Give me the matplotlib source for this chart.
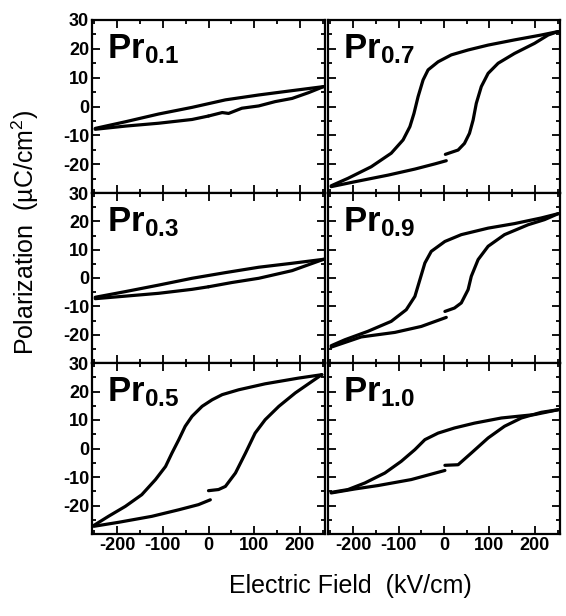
import matplotlib
matplotlib.use("Agg")
import matplotlib.pyplot as plt
from matplotlib.ticker import MultipleLocator

plt.rcParams['font.family'] = ['Liberation Sans', 'DejaVu Sans']
plt.rcParams['mathtext.default'] = 'regular'

# hysteresis loops: upper branch (descending field), lower branch in two
# pieces split at E = 0 where the measurement starts
PR01_UP_E = [252, 183, 110, 37, -36, -109, -182, -248]
PR01_UP_P = [6.9, 5.5, 4.0, 2.3, -0.3, -2.6, -5.3, -7.6]
PR01_LO1_E = [-248, -182, -109, -36, 0]
PR01_LO1_P = [-7.9, -6.8, -5.8, -4.5, -3.3]
PR01_LO2_E = [0, 30, 44, 73, 110, 146, 183, 219, 252]
PR01_LO2_P = [-3.3, -2.1, -2.4, -0.6, 0.2, 1.7, 2.8, 4.8, 6.9]

PR03_UP_E = [252, 183, 110, 37, -36, -109, -182, -248]
PR03_UP_P = [6.6, 5.2, 3.8, 1.9, -0.1, -2.5, -4.8, -6.8]
PR03_LO1_E = [-248, -182, -109, -36, 0]
PR03_LO1_P = [-7.3, -6.4, -5.4, -4.0, -3.1]
PR03_LO2_E = [0, 51, 110, 183, 252]
PR03_LO2_P = [-3.1, -1.6, -0.1, 2.6, 6.6]

PR05_UP_E = [248, 197, 124, 66, 30, 8, -14, -36, -51, -65, -80, -94, -116, -146, -182, -219, -251]
PR05_UP_P = [25.9, 24.7, 22.7, 20.6, 18.9, 17.1, 14.8, 11.3, 7.8, 3.1, -1.6, -6.3, -10.9, -16.2, -20.3, -23.8, -27.0]
PR05_LO1_E = [-251, -197, -124, -65, -22, 4]
PR05_LO1_P = [-27.3, -25.9, -23.8, -21.5, -19.7, -18.0]
PR05_LO2_E = [0, 22, 37, 59, 81, 102, 124, 154, 190, 227, 248]
PR05_LO2_P = [-14.8, -14.4, -13.3, -8.6, -1.6, 5.4, 10.1, 14.8, 19.5, 23.6, 25.9]

PR07_UP_E = [251, 214, 155, 97, 53, 16, -13, -35, -46, -57, -66, -75, -90, -116, -160, -211, -248]
PR07_UP_P = [26.0, 24.8, 23.1, 21.3, 19.6, 17.9, 15.5, 12.7, 9.2, 3.4, -2.4, -7.0, -11.6, -16.2, -20.9, -24.9, -27.5]
PR07_LO1_E = [-248, -196, -123, -64, -20, 5]
PR07_LO1_P = [-27.8, -26.1, -23.8, -21.7, -19.9, -18.8]
PR07_LO2_E = [3, 16, 31, 45, 56, 64, 71, 82, 97, 119, 155, 199, 229, 251]
PR07_LO2_P = [-16.6, -15.9, -15.1, -12.8, -9.3, -4.7, 1.1, 6.9, 11.5, 15.0, 18.4, 21.9, 24.8, 26.0]

PR09_UP_E = [251, 214, 155, 97, 38, 2, -28, -42, -53, -64, -83, -116, -167, -218, -248]
PR09_UP_P = [22.7, 21.2, 19.2, 17.6, 15.3, 12.9, 9.4, 5.3, -0.6, -6.5, -11.2, -15.3, -18.8, -21.8, -23.9]
PR09_LO1_E = [-248, -182, -108, -50, 5]
PR09_LO1_P = [-24.4, -20.8, -19.2, -17.1, -13.9]
PR09_LO2_E = [2, 23, 38, 53, 60, 75, 97, 133, 185, 221, 251]
PR09_LO2_P = [-11.8, -10.6, -8.8, -4.1, 0.6, 6.5, 11.2, 15.3, 18.8, 20.6, 22.7]

PR10_UP_E = [251, 199, 126, 67, 23, -13, -42, -64, -94, -130, -174, -211, -248]
PR10_UP_P = [13.6, 11.9, 10.7, 8.9, 7.2, 5.4, 3.1, -0.4, -4.5, -8.6, -12.1, -14.4, -15.4]
PR10_LO1_E = [-248, -196, -145, -72, 2]
PR10_LO1_P = [-15.6, -14.2, -13.0, -10.9, -7.7]
PR10_LO2_E = [2, 31, 60, 97, 133, 170, 214, 251]
PR10_LO2_P = [-5.9, -5.7, -1.6, 3.7, 7.8, 10.7, 12.7, 13.6]

LOOPS = [
    ('0.1', PR01_UP_E, PR01_UP_P, PR01_LO1_E, PR01_LO1_P, PR01_LO2_E, PR01_LO2_P),
    ('0.7', PR07_UP_E, PR07_UP_P, PR07_LO1_E, PR07_LO1_P, PR07_LO2_E, PR07_LO2_P),
    ('0.3', PR03_UP_E, PR03_UP_P, PR03_LO1_E, PR03_LO1_P, PR03_LO2_E, PR03_LO2_P),
    ('0.9', PR09_UP_E, PR09_UP_P, PR09_LO1_E, PR09_LO1_P, PR09_LO2_E, PR09_LO2_P),
    ('0.5', PR05_UP_E, PR05_UP_P, PR05_LO1_E, PR05_LO1_P, PR05_LO2_E, PR05_LO2_P),
    ('1.0', PR10_UP_E, PR10_UP_P, PR10_LO1_E, PR10_LO1_P, PR10_LO2_E, PR10_LO2_P),
]

Y_TICKS = [30, 20, 10, 0, -10, -20]
X_TICKS = [-200, -100, 0, 100, 200]

W, H = 566, 616
fig = plt.figure(figsize=(W / 100, H / 100), dpi=100)

col_x = [92, 328]
col_w = [233, 232]
rows = [(20, 193), (193, 363), (363, 534)]

for i, (comp, ue, up, l1e, l1p, l2e, l2p) in enumerate(LOOPS):
    r, c = divmod(i, 2)
    top, bot = rows[r]
    ax = fig.add_axes([col_x[c] / W, 1 - bot / H, col_w[c] / W, (bot - top) / H])
    for e, p in [(ue, up), (l1e, l1p), (l2e, l2p)]:
        ax.plot(e, p, color='black', lw=2.3, solid_capstyle='round',
                solid_joinstyle='round')
    ax.set_xlim(-255, 255)
    ax.set_ylim(-30, 30)
    ax.set_yticks(Y_TICKS)
    ax.set_xticks(X_TICKS)
    ax.yaxis.set_minor_locator(MultipleLocator(5))
    ax.xaxis.set_minor_locator(MultipleLocator(50))
    ax.tick_params(which='both', direction='in', top=True, right=True, width=1.3)
    ax.tick_params(which='major', length=6)
    ax.tick_params(which='minor', length=3)
    ax.tick_params(labelsize=13, pad=2)
    for s in ax.spines.values():
        s.set_linewidth(1.6)
    if c == 1:
        ax.set_yticklabels([])
    else:
        ax.set_yticklabels([str(v) for v in Y_TICKS], fontweight='bold')
    if r < 2:
        ax.set_xticklabels([])
    else:
        ax.set_xticklabels([str(v) for v in X_TICKS], fontweight='bold')
    ax.text(0.065, 0.93, 'Pr$_{%s}$' % comp, transform=ax.transAxes,
            fontsize=25, fontweight='bold', va='top', ha='left')

fig.text(25 / W, 1 - 232 / H, 'Polarization  (µC/cm$^2$)', rotation=90,
         fontsize=18, ha='center', va='center')
fig.text(350 / W, 1 - 586 / H, 'Electric Field  (kV/cm)',
         fontsize=18, ha='center', va='center')

fig.savefig('out.png', dpi=100)
